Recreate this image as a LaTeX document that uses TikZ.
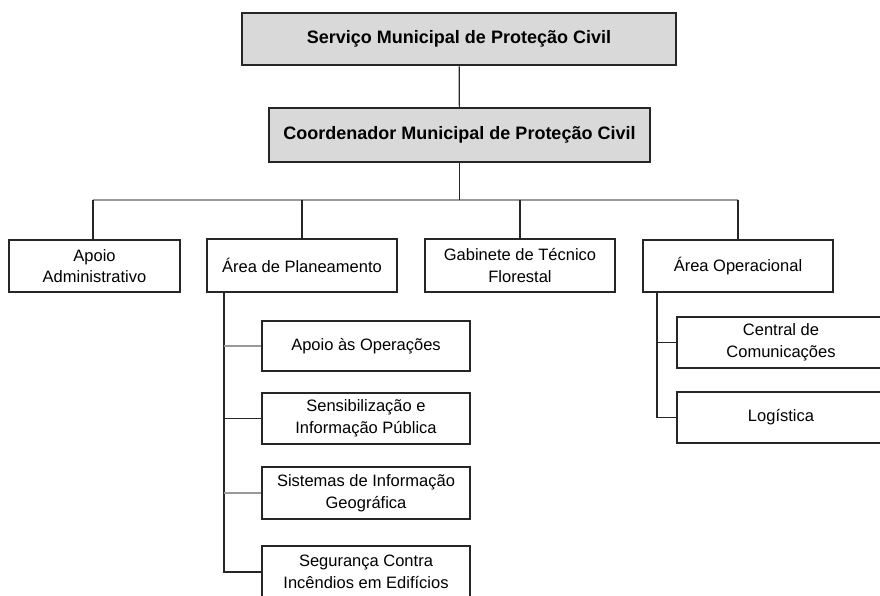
\documentclass[tikz,border=0pt]{standalone}
\usepackage{fontspec}
\setmainfont{Liberation Sans}
\begin{document}
\begin{tikzpicture}[x=1pt,y=-1pt,
  box/.style={draw=black!85, line width=1.2pt, fill=white, align=center,
    inner sep=0pt, font=\fontsize{16.5}{21.5}\selectfont},
  headbox/.style={box, fill=black!15, font=\bfseries\fontsize{18}{22}\selectfont},
  link/.style={draw=black!85, line width=1.2pt},
  lightlink/.style={draw=black!40, line width=1.1pt}]
\useasboundingbox (0,0) rectangle (880,595);
\clip (0,0) rectangle (880,595);
% top
\node[headbox, line width=2.6pt, minimum width=434pt, minimum height=52pt] (serv) at (459,39) {Serviço Municipal de Proteção Civil};
\node[headbox, minimum width=381pt, minimum height=54pt] (coord) at (459.5,135) {Coordenador Municipal de Proteção Civil};
% second row
\node[box, minimum width=171pt, minimum height=52pt] (adm) at (94.5,266) {Apoio\\Administrativo};
\node[box, minimum width=190pt, minimum height=53pt] (plan) at (302,265.5) {Área de Planeamento};
\node[box, minimum width=190pt, minimum height=53pt] (gab) at (520,265.5) {Gabinete de Técnico\\Florestal};
\node[box, minimum width=190pt, minimum height=52pt] (oper) at (738,266) {Área Operacional};
% planeamento children
\node[box, minimum width=208pt, minimum height=50pt] (aop) at (366,346) {Apoio às Operações};
\node[box, minimum width=208pt, minimum height=51pt] (sens) at (366,418.5) {Sensibilização e\\Informação Pública};
\node[box, minimum width=208pt, minimum height=52pt] (sig) at (366,493) {Sistemas de Informação\\Geográfica};
\node[box, minimum width=208pt, minimum height=52pt] (seg) at (366,572) {Segurança Contra\\Incêndios em Edifícios};
% operacional children
\node[box, minimum width=208pt, minimum height=51pt] (cen) at (781,342.5) {Central de\\Comunicações};
\node[box, minimum width=208pt, minimum height=51pt] (log) at (781,417.5) {Logística};
% connectors
\coordinate (busL) at (93,200);
\coordinate (busR) at (738,200);
\coordinate (ptx) at (224,0);
\coordinate (otx) at (657,0);
\draw[link] (serv) -- (coord);
\draw[lightlink] (busL) -- (busR);
\draw[link] (coord.south) -- (coord.south |- busL);
\draw[link] (adm.north -| busL) -- (busL);
\draw[link] (plan.north) -- (plan.north |- busL);
\draw[link] (gab.north) -- (gab.north |- busL);
\draw[link] (oper.north) -- (oper.north |- busL);
\draw[link] (plan.south -| ptx) |- (seg.west);
\draw[lightlink] (aop.west -| ptx) -- (aop.west);
\draw[link] (sens.west -| ptx) -- (sens.west);
\draw[lightlink] (sig.west -| ptx) -- (sig.west);
\draw[link] (oper.south -| otx) |- (log.west);
\draw[link] (cen.west -| otx) -- (cen.west);
\end{tikzpicture}
\end{document}
